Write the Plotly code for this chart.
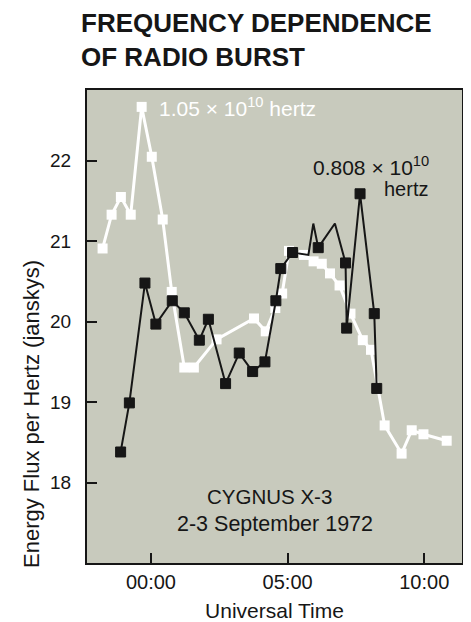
import plotly.graph_objects as go

# ---- data (hours relative to 00:00 UT, 3 Sept 1972) ----
white_hours = [-1.77, -1.44, -1.10, -0.74, -0.34, 0.03, 0.43, 0.76, 1.22, 1.57, 2.40, 3.77, 4.20,
               4.55, 4.80, 5.05, 5.60, 5.95, 6.25, 6.55, 6.90, 7.30, 7.75, 8.05, 8.55, 9.17,
               9.54, 9.97, 10.82]
white_flux = [20.91, 21.33, 21.55, 21.33, 22.67, 22.05, 21.27, 20.37, 19.43, 19.43, 19.78, 20.04, 19.88,
              20.17, 20.35, 20.88, 20.83, 20.75, 20.72, 20.60, 20.45, 20.10, 19.77, 19.65, 18.71, 18.36,
              18.65, 18.60, 18.52]

black_hours = [-1.11, -0.79, -0.22, 0.18, 0.78, 1.22, 1.77, 2.10, 2.73, 3.23, 3.72, 4.17, 4.57,
               4.75, 5.18, 5.76, 5.94, 6.12, 6.73, 7.12, 7.16, 7.65, 8.17, 8.26]
black_flux = [18.38, 18.99, 20.48, 19.97, 20.26, 20.11, 19.77, 20.03, 19.23, 19.61, 19.38, 19.50, 20.26,
              20.66, 20.86, 20.83, 21.22, 20.92, 21.22, 20.73, 19.92, 21.59, 20.10, 19.17]

x_tick_vals = [0, 5, 10]
x_tick_labels = ["00:00", "05:00", "10:00"]
y_tick_vals = [18, 19, 20, 21, 22]
y_tick_labels = ["18", "19", "20", "21", "22"]

# style: vertices drawn without a marker in the original
unmarked = (15, 16, 18)
black_marker_sizes = [10 if i not in unmarked else 0 for i in range(len(black_hours))]

FONT = "Liberation Sans, Arial, Helvetica, sans-serif"
DARK = "#161616"

fig = go.Figure()
fig.add_trace(go.Scatter(
    x=white_hours, y=white_flux, mode="lines+markers",
    line=dict(color="white", width=3),
    marker=dict(symbol="square", size=10, color="white", opacity=1, line=dict(width=0)),
    showlegend=False, hoverinfo="skip"))
fig.add_trace(go.Scatter(
    x=black_hours, y=black_flux, mode="lines+markers",
    line=dict(color=DARK, width=2),
    marker=dict(symbol="square", size=black_marker_sizes, color=DARK, opacity=1,
                line=dict(color=DARK, width=1)),
    showlegend=False, hoverinfo="skip"))

# the page body adds an 8px margin, so the figure is 8px smaller and margins shifted
fig.update_layout(
    width=463, height=614,
    margin=dict(l=79, r=9, t=82, b=59),
    paper_bgcolor="white", plot_bgcolor="#c8cabd",
    font=dict(family=FONT, color=DARK, size=18),
    xaxis=dict(range=[-2.34, 11.38], tickvals=x_tick_vals, ticktext=x_tick_labels,
               ticks="inside", ticklen=10, tickwidth=1.5, tickcolor=DARK,
               showgrid=False, zeroline=False, showline=True, linecolor=DARK, linewidth=2,
               mirror=True, tickfont=dict(size=20), automargin=False,
               title=dict(text="Universal Time", font=dict(size=21), standoff=11)),
    yaxis=dict(range=[17.0, 22.88], tickvals=y_tick_vals, ticktext=y_tick_labels,
               ticks="inside", ticklen=10, tickwidth=1.5, tickcolor=DARK,
               showgrid=False, zeroline=False, showline=True, linecolor=DARK, linewidth=2,
               mirror=True, tickfont=dict(size=19), ticklabelstandoff=10, automargin=False),
)

# title
fig.add_annotation(x=-8/375, y=1 + 50/473, xref="paper", yref="paper",
                   xanchor="left", yanchor="middle", align="left",
                   text="<b>FREQUENCY DEPENDENCE<br>OF RADIO BURST</b>", showarrow=False,
                   font=dict(family=FONT, size=26, color=DARK))

# y-axis title (sits low, off-centre, in the original)
fig.add_annotation(x=-56/375, y=149/473, xref="paper", yref="paper",
                   xanchor="center", yanchor="middle", textangle=-90,
                   text="Energy Flux per Hertz (janskys)", showarrow=False,
                   font=dict(size=22, color=DARK))

fig.add_annotation(x=0.22, y=22.67, xref="x", yref="y", xanchor="left", yanchor="middle",
                   text="1.05 × 10<sup>10</sup> hertz", showarrow=False,
                   font=dict(size=21, color="white"))
fig.add_annotation(x=5.85, y=21.93, xref="x", yref="y", xanchor="left", yanchor="middle",
                   text="0.808 × 10<sup>10</sup>", showarrow=False,
                   font=dict(size=21, color=DARK))
fig.add_annotation(x=8.45, y=21.65, xref="x", yref="y", xanchor="left", yanchor="middle",
                   text="hertz", showarrow=False, font=dict(size=20, color=DARK))
fig.add_annotation(x=4.32, y=17.83, xref="x", yref="y", xanchor="center", yanchor="middle",
                   text="CYGNUS X-3", showarrow=False, font=dict(size=20.5, color=DARK))
fig.add_annotation(x=4.54, y=17.48, xref="x", yref="y", xanchor="center", yanchor="middle",
                   text="2-3 September 1972", showarrow=False, font=dict(size=21.5, color=DARK))

fig.write_html("out.html")
